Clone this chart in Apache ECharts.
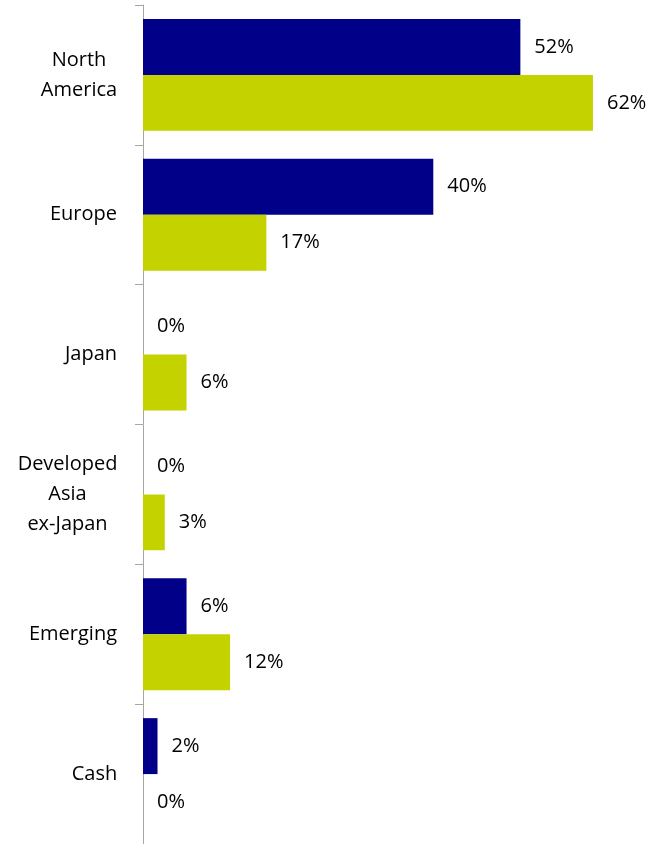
<!DOCTYPE html>
<html>
<head>
<meta charset="utf-8">
<script src="https://cdn.jsdelivr.net/npm/echarts@6/dist/echarts.min.js"></script>
<style>
  html, body { margin: 0; padding: 0; background: #fff; }
  #chart { width: 651px; height: 844px; }
</style>
</head>
<body>
<div id="chart"></div>
<script>
// Regional allocation, in percent
const regions = ['North\nAmerica', 'Europe', 'Japan', 'Developed\nAsia\nex-Japan', 'Emerging', 'Cash'];
const portfolio = [52, 40, 0, 0, 6, 2];
const benchmark = [62, 17, 6, 3, 12, 0];

const FONT_FAMILY = 'Open Sans';
const FONT_SIZE = 20;
const labelFont = { fontFamily: FONT_FAMILY, fontSize: FONT_SIZE, color: '#000' };

// Multi-line category names are centred line by line, while the block
// as a whole sits right-aligned against the axis.
const measureCtx = document.createElement('canvas').getContext('2d');
measureCtx.font = FONT_SIZE + 'px "' + FONT_FAMILY + '"';
const rich = {};
regions.forEach((name, i) => {
  const w = Math.max(...name.split('\n').map(l => measureCtx.measureText(l).width));
  rich['c' + i] = Object.assign({ width: Math.ceil(w) + 1, align: 'center', lineHeight: 30 }, labelFont);
});

const chart = echarts.init(document.getElementById('chart'));
chart.setOption({
  animation: false,
  grid: { left: 143, top: 5, width: 510, height: 840 },
  xAxis: {
    type: 'value', min: 0, max: 70, show: false,
    splitLine: { show: false }
  },
  yAxis: {
    type: 'category', data: regions, inverse: true,
    axisLine: { lineStyle: { color: '#A6A6A6', width: 1 } },
    axisTick: { show: true, length: 8, lineStyle: { color: '#A6A6A6' } },
    axisLabel: Object.assign({
      margin: 25, lineHeight: 30, align: 'right',
      formatter: (value, index) => value.split('\n').map(l => '{c' + index + '|' + l + '}').join('\n'),
      rich: rich
    }, labelFont)
  },
  series: [
    {
      type: 'bar', data: portfolio, barGap: '0%', barCategoryGap: '20%',
      itemStyle: { color: '#000088' },
      label: Object.assign({ show: true, position: 'right', distance: 14, formatter: p => p.value + '%' }, labelFont)
    },
    {
      type: 'bar', data: benchmark, barGap: '0%', barCategoryGap: '20%',
      itemStyle: { color: '#C4D200' },
      label: Object.assign({ show: true, position: 'right', distance: 14, formatter: p => p.value + '%' }, labelFont)
    }
  ]
});
</script>
</body>
</html>
